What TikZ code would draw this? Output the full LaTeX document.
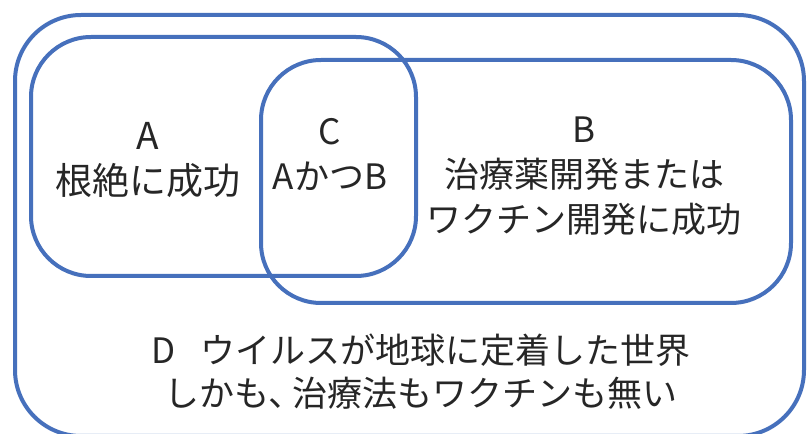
\documentclass[tikz,border=0pt]{standalone}
\usepackage{fontspec}
\setmainfont{Noto Sans CJK JP}
\definecolor{vblue}{RGB}{70,112,188}
\begin{document}
\begin{tikzpicture}[x=1pt,y=1pt,
  setbox/.style={draw=vblue,line width=4pt,rounded corners=60pt},
  lbl/.style={font=\fontsize{35}{45}\selectfont,align=center,inner sep=0pt,text=black!85}]
\useasboundingbox[fill=white] (0,0) rectangle (807,434);
% sets
\draw[setbox,rounded corners=66pt] (15,-2) rectangle (804,419);
\draw[setbox] (31,158) rectangle (416,397);
\draw[setbox] (261,131) rectangle (791,374);
% labels
\node[lbl,font=\fontsize{37}{45}\selectfont] (la) at (148,274) {A\\根絶に成功};
\node[lbl] (lc) at (330,280) {C\\AかつB};
\node[lbl] (lb) at (584,258) {B\\治療薬開発または\\ワクチン開発に成功};
\node[lbl,font=\fontsize{35}{43}\selectfont] (ld) at (421,62) {D\hspace{0.7em}ウイルスが地球に定着した世界\\しかも、\kern-0.3em 治療法もワクチンも無い};
\end{tikzpicture}
\end{document}
